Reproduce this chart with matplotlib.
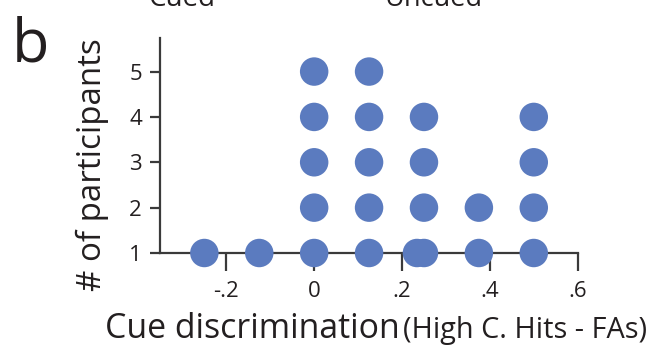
import matplotlib
matplotlib.use("Agg")
import matplotlib.pyplot as plt
from matplotlib.ticker import FixedLocator, FixedFormatter

# Cue discrimination score per group of participants and how many share it
scores = [-0.25, -0.125, 0.0, 0.125, 0.234, 0.25, 0.375, 0.5]
counts = [1, 1, 5, 5, 1, 4, 2, 4]

x_ticks = [-0.2, 0.0, 0.2, 0.4, 0.6]
x_tick_labels = ["-.2", "0", ".2", ".4", ".6"]
y_ticks = [1, 2, 3, 4, 5]
y_tick_labels = ["1", "2", "3", "4", "5"]

condition_titles = ["Cued", "Uncued"]

FONT = "Open Sans"
TEXT = "#231f20"
AXIS = "#3a3a3a"
DOT = "#5b7bbf"

plt.rcParams["font.family"] = [FONT, "DejaVu Sans"]

fig = plt.figure(figsize=(6.55, 3.47), dpi=100)
ax = fig.add_axes([160 / 655, 1 - 253 / 347, (577.7 - 160) / 655, (253 - 38) / 347])

# stack one dot per participant above each score
xs, ys = [], []
for s, c in zip(scores, counts):
    for k in range(1, c + 1):
        xs.append(s)
        ys.append(k)
ax.scatter(xs, ys, s=20.5 ** 2, color=DOT, edgecolors="none", zorder=5, clip_on=False)

ax.set_xlim(-0.351, 0.6)
ax.set_ylim(1, 5.74)

for side in ("top", "right"):
    ax.spines[side].set_visible(False)
for side in ("left", "bottom"):
    ax.spines[side].set_color(AXIS)
    ax.spines[side].set_linewidth(1.6)

ax.xaxis.set_major_locator(FixedLocator(x_ticks))
ax.xaxis.set_major_formatter(FixedFormatter(x_tick_labels))
ax.yaxis.set_major_locator(FixedLocator(y_ticks))
ax.yaxis.set_major_formatter(FixedFormatter(y_tick_labels))

ax.tick_params(axis="x", direction="out", length=13, width=1.6, color=AXIS,
               pad=7, labelsize=16, labelcolor=TEXT)
ax.tick_params(axis="y", direction="out", length=7, width=1.6, color=AXIS,
               pad=6, labelsize=16, labelcolor=TEXT)

# axis titles
fig.text(92 / 655, 1 - 165 / 347, "# of participants", rotation=90,
         ha="center", va="center", fontsize=23.8, color=TEXT)
fig.text(105 / 655, 1 - 338 / 347, "Cue discrimination", ha="left",
         va="baseline", fontsize=24.4, color=TEXT)
fig.text(403 / 655, 1 - 338 / 347, "(High C. Hits - FAs)", ha="left",
         va="baseline", fontsize=20.8, color=TEXT)

# panel letter
fig.text(12 / 655, 1 - 62 / 347, "b", ha="left", va="baseline",
         fontsize=44, color=TEXT)

# condition headings from the panel above, cut by the top edge
fig.text(181.5 / 655, 1 - 6 / 347, condition_titles[0], ha="center",
         va="baseline", fontsize=20, color=TEXT)
fig.text(433.5 / 655, 1 - 6 / 347, condition_titles[1], ha="center",
         va="baseline", fontsize=19.5, color=TEXT)

fig.savefig("out.png", dpi=100)
